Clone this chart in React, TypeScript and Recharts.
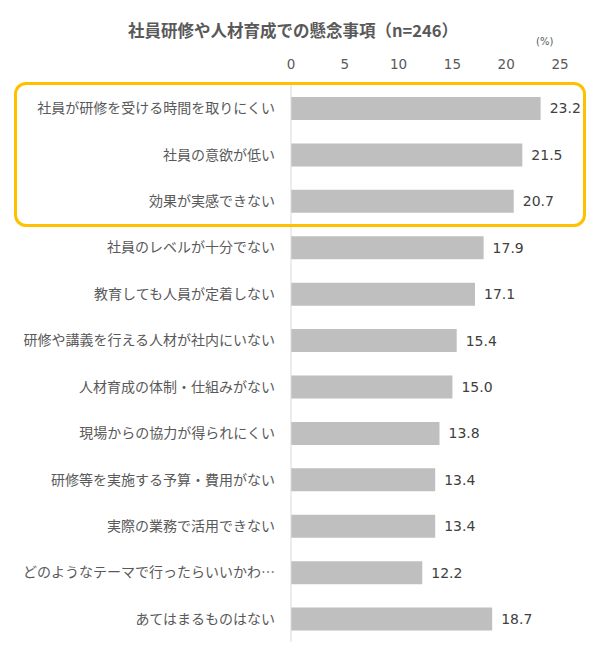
import { BarChart, Bar, XAxis, YAxis, LabelList } from 'recharts'

const categories = [
  '社員が研修を受ける時間を取りにくい',
  '社員の意欲が低い',
  '効果が実感できない',
  '社員のレベルが十分でない',
  '教育しても人員が定着しない',
  '研修や講義を行える人材が社内にいない',
  '人材育成の体制・仕組みがない',
  '現場からの協力が得られにくい',
  '研修等を実施する予算・費用がない',
  '実際の業務で活用できない',
  'どのようなテーマで行ったらいいかわ…',
  'あてはまるものはない',
]
const values = [23.2, 21.5, 20.7, 17.9, 17.1, 15.4, 15.0, 13.8, 13.4, 13.4, 12.2, 18.7]
const xTicks = [0, 5, 10, 15, 20, 25]

const data = categories.map((name, i) => ({ name, value: values[i] }))

const FONT = '"Noto Sans CJK JP", "Noto Sans", sans-serif'
const NUM_FONT = '"DejaVu Sans", "Noto Sans", sans-serif'

function CategoryTick(props: any) {
  const { x, y, payload } = props
  return (
    <text x={x} y={y} dy={5} textAnchor="end" fill="#595959" fontSize={14} fontFamily={FONT}>
      {payload.value}
    </text>
  )
}

export default function App() {
  return (
    <div style={{ position: 'absolute', left: 0, top: 0, width: 600, height: 652, background: '#fff', fontFamily: FONT }}>
      <div
        style={{
          position: 'absolute',
          left: 0,
          width: 586,
          top: 18,
          textAlign: 'center',
          fontSize: 16.5,
          fontWeight: 'bold',
          color: '#595959',
          lineHeight: '24px',
        }}
      >
        社員研修や人材育成での懸念事項（n=246）
      </div>
      <div style={{ position: 'absolute', left: 536, top: 35, fontSize: 10, color: '#595959', lineHeight: '14px', fontFamily: NUM_FONT }}>
        (%)
      </div>
      <BarChart
        width={600}
        height={652}
        data={data}
        layout="vertical"
        margin={{ top: 55, right: 40, bottom: 10, left: 0 }}
      >
        <XAxis
          type="number"
          orientation="top"
          domain={[0, 25]}
          ticks={xTicks}
          height={30}
          axisLine={false}
          tickLine={false}
          tick={{ fill: '#595959', fontSize: 13.5, fontFamily: NUM_FONT }}
          tickMargin={10}
        />
        <YAxis
          type="category"
          dataKey="name"
          width={291}
          axisLine={{ stroke: '#d9d9d9' }}
          tickLine={false}
          tickMargin={10}
          tick={<CategoryTick />}
          interval={0}
        />
        <Bar dataKey="value" fill="#bfbfbf" barSize={23} isAnimationActive={false}>
          <LabelList
            dataKey="value"
            position="right"
            offset={9}
            fill="#404040"
            fontSize={14}
            fontFamily={NUM_FONT}
            formatter={(v: any) => Number(v).toFixed(1)}
          />
        </Bar>
      </BarChart>
      <div
        style={{
          position: 'absolute',
          left: 14,
          top: 82,
          width: 566,
          height: 139,
          border: '3px solid #ffc000',
          borderRadius: 12,
          pointerEvents: 'none',
        }}
      />
    </div>
  )
}
